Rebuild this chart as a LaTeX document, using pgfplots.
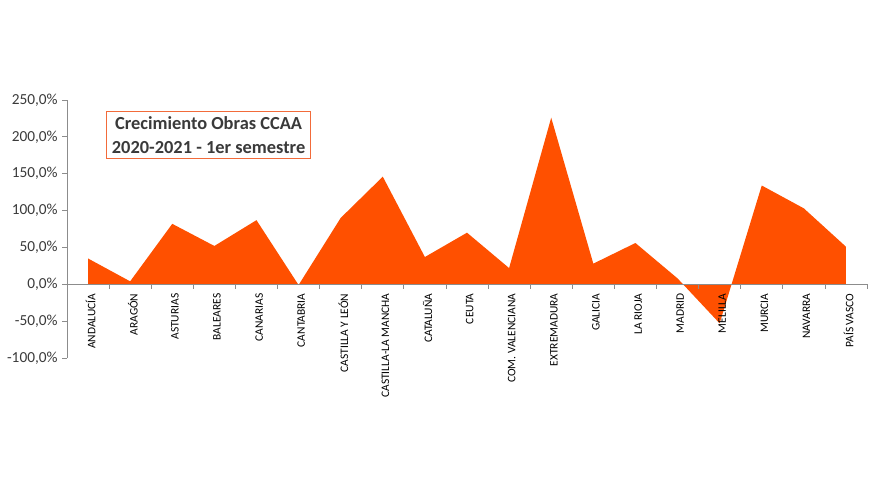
\documentclass[border=0pt]{standalone}
\usepackage{fontspec}
\setmainfont{Carlito}
\usepackage{pgfplots}
\pgfplotsset{compat=1.18}
\definecolor{areaOrange}{HTML}{FF5000}
\definecolor{boxOrange}{HTML}{F26B3A}
\definecolor{axisGrey}{HTML}{8C8C8C}
\definecolor{labelGrey}{HTML}{3A3A3A}

\begin{document}
\begin{tikzpicture}
\path[use as bounding box] (0,0) rectangle (656.25pt,375pt);
\begin{axis}[
  at={(50.25pt,106.5pt)}, anchor=south west,
  scale only axis,
  width=600pt, height=193.5pt,
  xmin=-0.5, xmax=18.5,
  ymin=-100, ymax=250,
  axis on top,
  axis x line=middle, axis y line=left,
  axis line style={-,axisGrey,line width=0.6pt},
  tick style={axisGrey,line width=0.6pt},
  tick align=outside,
  xtick={0,...,18},
  major x tick style={draw=none},
  minor xtick={-0.5,0.5,...,18.5},
  minor tick length=3.5pt,
  major tick length=3.5pt,
  xticklabels={ANDALUCÍA,ARAGÓN,ASTURIAS,BALEARES,CANARIAS,CANTABRIA,CASTILLA Y LEÓN,CASTILLA-LA MANCHA,CATALUÑA,CEUTA,COM. VALENCIANA,EXTREMADURA,GALICIA,LA RIOJA,MADRID,MELILLA,MURCIA,NAVARRA,PAÍS VASCO},
  xticklabel style={rotate=90,anchor=east,font=\fontsize{8.6}{10}\selectfont,text=black,yshift=-2pt},
  ytick={-100,-50,0,50,100,150,200,250},
  yticklabel={\pgfmathprintnumber{\tick}\%},
  yticklabel style={font=\fontsize{11.5}{13}\selectfont,text=labelGrey,
    /pgf/number format/.cd,fixed,fixed zerofill,precision=1,use comma,assume math mode=true},
  clip=false,
]
\addplot[fill=areaOrange,draw=none] coordinates {
  (0,35) (1,4) (2,82) (3,52) (4,87) (5,-1) (6,90) (7,146) (8,37) (9,70)
  (10,22) (11,226) (12,28) (13,56) (14,8) (15,-53) (16,134) (17,103) (18,51)
} \closedcycle;
\node[draw=boxOrange,fill=white,line width=0.8pt,align=center,
  font=\fontsize{13.8}{18}\selectfont\bfseries,text=labelGrey,
  inner xsep=4pt,inner ysep=4pt]
  at (rel axis cs:0.177,0.864) {Crecimiento Obras CCAA\\2020-2021 - 1er semestre};
\end{axis}
\end{tikzpicture}
\end{document}
